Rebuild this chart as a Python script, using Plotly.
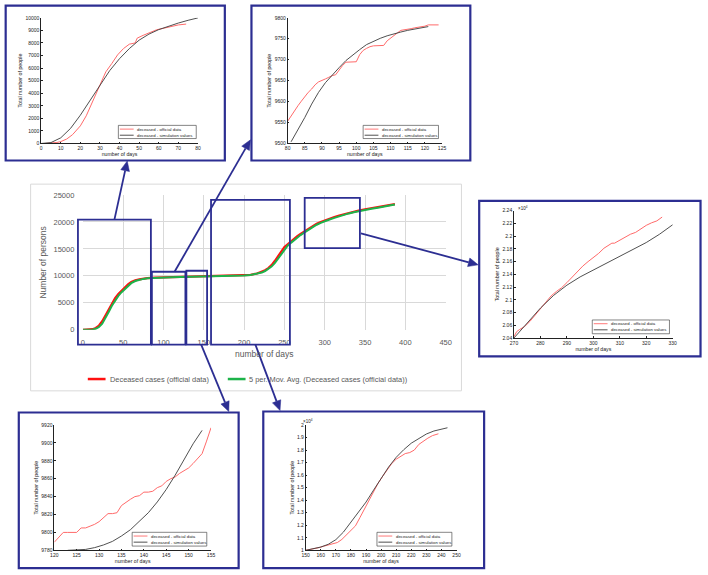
import math
import plotly.graph_objects as go

W, H = 708, 575
def px(x): return x / W
def py(y): return 1 - y / H

# ---------------- data ----------------
# main chart (Excel)
main_days = [0, 4, 8, 12, 16, 20, 24, 28, 32, 36, 40, 44, 48, 52, 56, 60, 65, 70, 75, 80, 90, 100,
             110, 120, 130, 140, 150, 160, 170, 180, 190, 200, 208, 216, 222, 226, 230, 234, 238,
             242, 246, 250, 254, 258, 262, 266, 270, 275, 280, 285, 290, 295, 300, 306, 312, 318,
             324, 330, 336, 342, 350, 358, 366, 374, 380, 387]
main_official = [0, 10, 40, 120, 350, 800, 1600, 2700, 3900, 5000, 5900, 6650, 7300, 7900, 8450,
                 8850, 9180, 9350, 9500, 9580, 9680, 9720, 9760, 9790, 9815, 9845, 9875, 9920, 9960,
                 9990, 10030, 10080, 10200, 10450, 10750, 11050, 11450, 12000, 12750, 13600, 14550,
                 15350, 15850, 16400, 16900, 17350, 17800, 18300, 18800, 19300, 19650, 20000, 20300,
                 20600, 20900, 21200, 21450, 21700, 21900, 22100, 22350, 22550, 22750, 22950, 23100,
                 23300]
main_movavg = [0, 5, 20, 70, 200, 520, 1150, 2100, 3300, 4450, 5450, 6300, 6980, 7600, 8150, 8650,
               9050, 9280, 9440, 9550, 9660, 9710, 9750, 9785, 9810, 9840, 9868, 9910, 9955, 9985,
               10025, 10070, 10170, 10380, 10620, 10900, 11250, 11720, 12350, 13170, 14080, 14950,
               15600, 16120, 16650, 17120, 17570, 18050, 18550, 19050, 19480, 19820, 20150, 20450,
               20750, 21050, 21330, 21580, 21800, 22000, 22250, 22450, 22650, 22850, 23030, 23220]

# inset 1: days 0-80
in1_off_days = [2, 5, 8, 10, 13, 16, 20, 23, 26, 30, 33, 36, 39, 42, 45, 48, 49, 52, 55, 59, 62, 65, 70, 74]
in1_off_vals = [0, 20, 80, 150, 350, 700, 1400, 2200, 3250, 4650, 5700, 6350, 7050, 7550, 7900, 8000,
                8380, 8600, 8800, 9050, 9150, 9270, 9430, 9500]
in1_sim_days = [0, 5, 10, 15, 20, 25, 30, 35, 40, 45, 50, 55, 60, 65, 70, 75, 80]
in1_sim_vals = [0, 70, 450, 1200, 2250, 3400, 4650, 5800, 6750, 7550, 8220, 8700, 9060, 9350, 9580, 9800, 9990]

# inset 2: days 80-125
in2_off_days = list(range(80, 125))
in2_off_vals = [9553, 9566, 9578, 9590, 9601, 9613, 9622, 9630, 9640, 9647, 9650, 9654, 9658, 9662,
                9664, 9676, 9686, 9694, 9694, 9694, 9695, 9712, 9722, 9727, 9731, 9733, 9733, 9733,
                9734, 9745, 9752, 9758, 9764, 9770, 9771, 9773, 9774, 9776, 9777, 9779, 9780, 9783,
                9783, 9783, 9783]
in2_sim_days = [81, 83, 85, 87, 89, 91, 93, 95, 97, 99, 101, 103, 105, 107, 109, 111, 113, 115, 117, 119, 121]
in2_sim_vals = [9504, 9532, 9562, 9594, 9622, 9645, 9664, 9681, 9698, 9712, 9724, 9736, 9744, 9751,
                9757, 9762, 9766, 9770, 9773, 9776, 9779]

# inset 3: days 270-330 (x10^4)
in3_off_days = [270, 271, 272, 274, 276, 278, 280, 282, 284, 286, 288, 290, 292, 294, 296, 298, 300,
                302, 304, 306, 307, 308, 310, 312, 314, 316, 318, 320, 322, 324, 326]
in3_off_vals = [2.042, 2.050, 2.053, 2.058, 2.066, 2.076, 2.087, 2.097, 2.106, 2.113, 2.119, 2.127,
                2.136, 2.144, 2.153, 2.160, 2.166, 2.173, 2.181, 2.187, 2.189, 2.189, 2.194, 2.199,
                2.203, 2.206, 2.212, 2.217, 2.221, 2.224, 2.230]
in3_sim_days = [270, 275, 280, 285, 290, 295, 300, 305, 310, 315, 320, 325, 330]
in3_sim_vals = [2.040, 2.064, 2.087, 2.107, 2.123, 2.136, 2.147, 2.158, 2.168, 2.179, 2.190, 2.203, 2.218]
in3_ytick_vals = [2.04, 2.06, 2.08, 2.10, 2.12, 2.14, 2.16, 2.18, 2.20, 2.22, 2.24]
in3_ytick_text = ["2.04", "2.06", "2.08", "2.1", "2.12", "2.14", "2.16", "2.18", "2.2", "2.22", "2.24"]

# inset 4: days 120-155
in4_off_days = list(range(120, 156))
in4_off_vals = [9789, 9794, 9800, 9800, 9800, 9800, 9805, 9805, 9807, 9809, 9812, 9816, 9821, 9821,
                9822, 9830, 9834, 9837, 9840, 9841, 9845, 9845, 9846, 9850, 9852, 9857, 9860, 9862,
                9866, 9869, 9872, 9877, 9882, 9888, 9902, 9917]
in4_sim_days = [123, 125, 127, 129, 131, 133, 135, 137, 139, 141, 143, 145, 147, 149, 151, 153]
in4_sim_vals = [9780, 9780.5, 9781, 9783, 9786, 9790, 9796, 9803, 9812, 9822, 9834, 9848, 9864, 9882, 9899, 9914]

# inset 5: days 150-250 (x10^4)
in5_off_days = [150, 153, 156, 159, 162, 165, 168, 171, 174, 177, 180, 183, 186, 189, 192, 195, 198,
                201, 204, 207, 210, 213, 216, 219, 222, 225, 228, 231, 234, 237, 238]
in5_off_vals = [1.000, 1.006, 1.013, 1.022, 1.033, 1.042, 1.049, 1.062, 1.087, 1.122, 1.160, 1.195,
                1.262, 1.330, 1.400, 1.468, 1.535, 1.590, 1.645, 1.692, 1.727, 1.752, 1.772, 1.780,
                1.800, 1.845, 1.872, 1.895, 1.915, 1.928, 1.930]
in5_sim_days = [150, 155, 160, 165, 170, 175, 180, 185, 190, 195, 200, 205, 210, 215, 220, 225, 230, 235, 240, 244]
in5_sim_vals = [1.000, 1.010, 1.026, 1.048, 1.085, 1.145, 1.222, 1.300, 1.385, 1.480, 1.575, 1.665,
                1.742, 1.803, 1.855, 1.895, 1.928, 1.952, 1.968, 1.978]
in5_ytick_vals = [1.0, 1.1, 1.2, 1.3, 1.4, 1.5, 1.6, 1.7, 1.8, 1.9, 2.0]
in5_ytick_text = ["1", "1.1", "1.2", "1.3", "1.4", "1.5", "1.6", "1.7", "1.8", "1.9", "2"]

# ---------------- styling ----------------
NAVY = "rgb(44,46,146)"
RED_MAIN = "#ff1010"
GREEN_MAIN = "#1db34a"
RED_IN = "#ff6a6a"
BLACK_IN = "#3c3c3c"
FONT = "Liberation Sans"
GRAY_TXT = "#595959"

fig = go.Figure()

fig.add_trace(go.Scatter(x=main_days, y=main_official, mode="lines", name="Deceased cases (official data)",
                         line=dict(color=RED_MAIN, width=2.2), xaxis="x", yaxis="y", showlegend=False))
fig.add_trace(go.Scatter(x=main_days, y=main_movavg, mode="lines",
                         name="5 per. Mov. Avg. (Deceased cases (official data))",
                         line=dict(color=GREEN_MAIN, width=2.0), xaxis="x", yaxis="y", showlegend=False))

layout = dict(
    width=W, height=H, autosize=False, margin=dict(l=0, r=0, t=0, b=0, pad=0),
    paper_bgcolor="white", plot_bgcolor="white", showlegend=False,
    font=dict(family=FONT),
    xaxis=dict(domain=[px(80), px(448)], anchor="y", range=[0, 450], dtick=50, tick0=0, tickformat="d",
               showgrid=True, gridcolor="#d9d9d9", gridwidth=1, zeroline=False, showline=False,
               ticks="outside", ticklen=5, tickcolor="rgba(0,0,0,0)",
               tickfont=dict(size=7.5, color=GRAY_TXT, family=FONT),
               title=dict(text="number of days", font=dict(size=8.5, color=GRAY_TXT, family=FONT), standoff=5)),
    yaxis=dict(domain=[py(331), py(194)], anchor="x", range=[0, 25000], dtick=5000, tick0=0, tickformat="d",
               showgrid=True, gridcolor="#d9d9d9", gridwidth=1, zeroline=False, showline=False,
               ticks="outside", ticklen=6, tickcolor="rgba(0,0,0,0)",
               tickfont=dict(size=7.5, color=GRAY_TXT, family=FONT),
               title=dict(text="Number of persons", font=dict(size=8.5, color=GRAY_TXT, family=FONT), standoff=5)),
)

insets = [
    dict(off=(in1_off_days, in1_off_vals), sim=(in1_sim_days, in1_sim_vals),
         plot=(37.7, 14, 196.7, 141.7), xr=[0, 80], xd=10, yr=[0, 10000], yd=1000,
         border=(1.7, 1.7, 224, 159), leg=(116, 123.3, 195, 136.7)),
    dict(off=(in2_off_days, in2_off_vals), sim=(in2_sim_days, in2_sim_vals),
         plot=(287.7, 14, 444.3, 141.7), xr=[80, 125], xd=5, yr=[9500, 9800], yd=50,
         border=(251, 1.7, 473, 159), leg=(364.3, 123.3, 440.7, 136.7)),
    dict(off=(in3_off_days, in3_off_vals), sim=(in3_sim_days, in3_sim_vals),
         plot=(517.3, 210, 678.3, 339.3), xr=[270, 330], xd=10, yr=[2.04, 2.24],
         ytv=in3_ytick_vals, ytt=in3_ytick_text, expo=(519, 207),
         border=(482, 200, 706.5, 358), leg=(596.7, 321, 675, 335)),
    dict(off=(in4_off_days, in4_off_vals), sim=(in4_sim_days, in4_sim_vals),
         plot=(51, 427.7, 210, 555), xr=[120, 155], xd=5, yr=[9780, 9920], yd=20,
         border=(15, 415, 238, 573), leg=(130, 536.7, 205.7, 550.7)),
    dict(off=(in5_off_days, in5_off_vals), sim=(in5_sim_days, in5_sim_vals),
         plot=(306, 427.7, 459, 555), xr=[150, 250], xd=10, yr=[1, 2],
         ytv=in5_ytick_vals, ytt=in5_ytick_text, expo=(301, 424),
         border=(263, 414, 487, 573), leg=(378.3, 536.7, 454.3, 550.7)),
]

shapes = []
annotations = []
TF = dict(size=5, color="#222", family=FONT)

for i, ins in enumerate(insets):
    n = i + 2
    xa, ya = f"x{n}", f"y{n}"
    fig.add_trace(go.Scatter(x=ins["off"][0], y=ins["off"][1], mode="lines", name="deceased - official data",
                             line=dict(color=RED_IN, width=1), xaxis=xa, yaxis=ya, showlegend=False))
    fig.add_trace(go.Scatter(x=ins["sim"][0], y=ins["sim"][1], mode="lines", name="deceased - simulation values",
                             line=dict(color=BLACK_IN, width=0.9), xaxis=xa, yaxis=ya, showlegend=False))
    x0, y0, x1, y1 = ins["plot"]
    common = dict(showgrid=False, zeroline=False, showline=True, linecolor="#222", linewidth=0.6,
                  ticks="inside", ticklen=2, tickwidth=0.5, tickcolor="#222", tickfont=TF)
    xax = dict(domain=[px(x0), px(x1)], anchor=ya, range=ins["xr"], dtick=ins["xd"], tick0=ins["xr"][0],
               tickformat="d",
               title=dict(text="number of days", font=dict(size=5.2, color="#222", family=FONT), standoff=2),
               **common)
    yax = dict(domain=[py(y1), py(y0)], anchor=xa, range=ins["yr"],
               title=dict(text="Total number of people", font=dict(size=5.3, color="#222", family=FONT), standoff=2),
               **common)
    if "ytv" in ins:
        yax.update(tickmode="array", tickvals=ins["ytv"], ticktext=ins["ytt"])
    else:
        yax.update(dtick=ins["yd"], tick0=ins["yr"][0], tickformat="d")
    layout[f"xaxis{n}"] = xax
    layout[f"yaxis{n}"] = yax

    bx0, by0, bx1, by1 = ins["border"]
    shapes.append(dict(type="rect", xref="paper", yref="paper", x0=px(bx0), x1=px(bx1), y0=py(by1), y1=py(by0),
                       line=dict(color=NAVY, width=2.2), fillcolor="rgba(0,0,0,0)"))
    lx0, ly0, lx1, ly1 = ins["leg"]
    shapes.append(dict(type="rect", xref="paper", yref="paper", x0=px(lx0), x1=px(lx1), y0=py(ly1), y1=py(ly0),
                       line=dict(color="#333", width=0.6), fillcolor="white"))
    rows = [("deceased - official data", RED_IN, ly0 + 3.8), ("deceased - simulation values", BLACK_IN, ly0 + 10.0)]
    for label, col, yy in rows:
        shapes.append(dict(type="line", xref="paper", yref="paper", x0=px(lx0 + 1.5), x1=px(lx0 + 15.5),
                           y0=py(yy), y1=py(yy), line=dict(color=col, width=0.9)))
        annotations.append(dict(text=label, xref="paper", yref="paper", x=px(lx0 + 17), y=py(yy),
                                xanchor="left", yanchor="middle", showarrow=False,
                                font=dict(size=4.3, color="#222", family=FONT)))
    if "expo" in ins:
        ex, ey = ins["expo"]
        annotations.append(dict(text="×10<sup>4</sup>", xref="paper", yref="paper", x=px(ex), y=py(ey),
                                xanchor="left", yanchor="middle", showarrow=False,
                                font=dict(size=4.5, color="#222", family=FONT)))

# main chart outer border
shapes.append(dict(type="rect", xref="paper", yref="paper", x0=px(27), x1=px(464), y0=py(393), y1=py(183),
                   line=dict(color="#d9d9d9", width=1), fillcolor="rgba(0,0,0,0)", layer="below"))

# zoom rectangles on the main chart
zoom_boxes = [(75, 219, 149, 346), (150, 272, 184, 346), (185, 271, 206, 346), (210, 199, 290, 346), (305, 197, 361, 248)]
for (a, b, c, d) in zoom_boxes:
    shapes.append(dict(type="rect", xref="paper", yref="paper", x0=px(a), x1=px(c), y0=py(d), y1=py(b),
                       line=dict(color=NAVY, width=1.8), fillcolor="rgba(0,0,0,0)"))

# main legend (manual)
shapes.append(dict(type="line", xref="paper", yref="paper", x0=px(85), x1=px(103), y0=py(381), y1=py(381),
                   line=dict(color=RED_MAIN, width=2.5)))
shapes.append(dict(type="line", xref="paper", yref="paper", x0=px(227), x1=px(245), y0=py(381), y1=py(381),
                   line=dict(color=GREEN_MAIN, width=2.5)))
annotations.append(dict(text="Deceased cases (official data)", xref="paper", yref="paper", x=px(105.5), y=py(381),
                        xanchor="left", yanchor="middle", showarrow=False,
                        font=dict(size=7.4, color=GRAY_TXT, family=FONT)))
annotations.append(dict(text="5 per. Mov. Avg. (Deceased cases (official data))", xref="paper", yref="paper",
                        x=px(246.5), y=py(381), xanchor="left", yanchor="middle", showarrow=False,
                        font=dict(size=7.4, color=GRAY_TXT, family=FONT)))

# arrows: (head), (tail) in pixels -> line + filled triangular head
arrows = [((125, 159.5), (112, 219)), ((250, 138), (173, 272)), ((481, 265), (362, 233)),
          ((228, 414), (200, 346)), ((280, 413), (255, 346))]
HL, HW = 10.0, 4.5
for (hx, hy), (tx, ty) in arrows:
    dx, dy = hx - tx, hy - ty
    L = math.hypot(dx, dy)
    ux, uy = dx / L, dy / L
    bx, by = hx - ux * HL, hy - uy * HL
    shapes.append(dict(type="line", xref="paper", yref="paper", x0=px(tx), y0=py(ty), x1=px(bx), y1=py(by),
                       line=dict(color=NAVY, width=1.8)))
    p1 = (bx - uy * HW, by + ux * HW)
    p2 = (bx + uy * HW, by - ux * HW)
    path = (f"M {px(hx)},{py(hy)} L {px(p1[0])},{py(p1[1])} L {px(p2[0])},{py(p2[1])} Z")
    shapes.append(dict(type="path", xref="paper", yref="paper", path=path,
                       fillcolor=NAVY, line=dict(color=NAVY, width=0.5)))

layout["shapes"] = shapes
layout["annotations"] = annotations
fig.update_layout(**layout)
fig.write_html("out.html", config={"displayModeBar": False},
               post_script="document.body.style.margin='0';document.body.style.padding='0';"
                           "document.body.style.overflow='hidden';")
